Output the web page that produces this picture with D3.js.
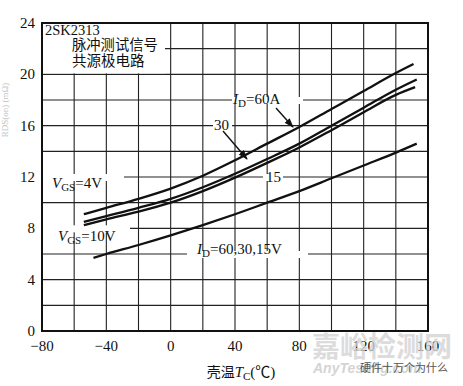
<!DOCTYPE html>
<html>
<head>
<meta charset="utf-8">
<script src="https://cdn.jsdelivr.net/npm/d3@7"></script>
<style>
  body { margin: 0; background: #fff; }
  text { font-family: "Liberation Serif", "Noto Sans CJK SC", serif; fill: #111; }
  .cjk { font-family: "Noto Sans CJK SC", sans-serif; }
</style>
</head>
<body>
<div id="chart"></div>
<script>
// case temperature (°C) vs on-resistance (mΩ)
const tc60 = [-54, -40, -20, 0, 20, 40, 60, 80, 100, 120, 140, 151];
const r60 = [9.1, 9.6, 10.3, 11.1, 12.1, 13.3, 14.6, 15.9, 17.3, 18.7, 20.1, 20.8];
const tc30 = [-54, -40, -20, 0, 20, 40, 60, 80, 100, 120, 140, 153];
const r30 = [8.5, 8.95, 9.6, 10.3, 11.2, 12.25, 13.4, 14.6, 16.0, 17.4, 18.8, 19.6];
const tc15 = [-54, -40, -20, 0, 20, 40, 60, 80, 100, 120, 140, 152];
const r15 = [8.25, 8.7, 9.3, 10.0, 10.9, 11.95, 13.1, 14.3, 15.65, 17.05, 18.4, 19.0];
const tc10v = [-48, -40, -20, 0, 20, 40, 60, 80, 100, 120, 140, 153];
const r10v = [5.7, 6.0, 6.7, 7.45, 8.25, 9.1, 10.0, 10.9, 11.9, 12.9, 13.9, 14.6];

const xTicks = [-80, -40, 0, 40, 80, 120, 160];
const yTicks = [0, 4, 8, 12, 16, 20, 24];

const W = 463, H = 386;
const margin = {top: 23, right: 35, bottom: 55, left: 42};
const width = W - margin.left - margin.right;
const height = H - margin.top - margin.bottom;

const svg = d3.select("#chart").append("svg")
  .attr("width", W).attr("height", H);

const x = d3.scaleLinear().domain([-80, 160]).range([margin.left, margin.left + width]);
const y = d3.scaleLinear().domain([0, 24]).range([margin.top + height, margin.top]);

// grid
const grid = svg.append("g").attr("stroke", "#222").attr("stroke-width", 1.1);
grid.selectAll(".gx").data(d3.range(-60, 160, 20)).enter().append("line")
  .attr("x1", d => x(d)).attr("x2", d => x(d))
  .attr("y1", y(0)).attr("y2", y(24));
grid.selectAll(".gy").data(d3.range(2, 24, 2)).enter().append("line")
  .attr("x1", x(-80)).attr("x2", x(160))
  .attr("y1", d => y(d)).attr("y2", d => y(d));

// white patches behind labels
const patches = [
  [x(-80), y(24), 123, y(20) - y(24) - 1],
  [x(-80), y(12) - 3, 82, 7],
  [x(-80), y(8) - 3, 88, 7],
  [187, y(6) - 3, 121, 7],
  [232, y(18) - 3, 71, 7],
  [213, y(16) - 3, 19, 7],
  [263, y(12) - 3, 20, 7]
];
svg.selectAll(".patch").data(patches).enter().append("rect")
  .attr("x", d => d[0]).attr("y", d => d[1])
  .attr("width", d => d[2]).attr("height", d => d[3])
  .attr("fill", "#fff");

// frame
svg.append("rect")
  .attr("x", x(-80)).attr("y", y(24))
  .attr("width", width).attr("height", height)
  .attr("fill", "none").attr("stroke", "#111").attr("stroke-width", 2);

// axes labels
svg.append("g").selectAll("text").data(yTicks).enter().append("text")
  .attr("x", 35).attr("y", d => y(d) + 5)
  .attr("text-anchor", "end").attr("font-size", 15).text(d => d);
svg.append("g").selectAll("text").data(xTicks).enter().append("text")
  .attr("x", d => x(d)).attr("y", 351)
  .attr("text-anchor", "middle").attr("font-size", 15)
  .text(d => d < 0 ? "\u2212" + Math.abs(d) : d);

const xt = svg.append("text").attr("x", 241).attr("y", 377)
  .attr("text-anchor", "middle").attr("font-size", 15);
xt.append("tspan").attr("class", "cjk").attr("font-size", 14).text("壳温");
xt.append("tspan").attr("font-style", "italic").text("T");
xt.append("tspan").attr("font-size", 11).attr("dy", 3).text("C");
xt.append("tspan").attr("dy", -3).text("(℃)");

svg.append("text").attr("transform", "translate(8,110) rotate(-90)")
  .attr("text-anchor", "middle").attr("font-size", 9).style("fill", "#c4c4c4")
  .text("RDS(on) (mΩ)");

// curves
const line = d3.line().x(d => x(d[0])).y(d => y(d[1])).curve(d3.curveMonotoneX);
const series = [[tc60, r60], [tc30, r30], [tc15, r15], [tc10v, r10v]];
svg.selectAll(".curve").data(series).enter().append("path")
  .attr("d", s => line(d3.zip(s[0], s[1])))
  .attr("fill", "none").attr("stroke", "#111").attr("stroke-width", 2.3);

// annotations
svg.append("text").attr("x", 45).attr("y", 35).attr("font-size", 14.5).text("2SK2313");
svg.append("text").attr("class", "cjk").attr("x", 72).attr("y", 50)
  .attr("font-size", 14.3).text("脉冲测试信号");
svg.append("text").attr("class", "cjk").attr("x", 72).attr("y", 66)
  .attr("font-size", 14.5).text("共源极电路");

function sublabel(tx, ty, main, sub, rest) {
  const t = svg.append("text").attr("x", tx).attr("y", ty).attr("font-size", 15);
  t.append("tspan").attr("font-style", "italic").text(main);
  t.append("tspan").attr("font-size", 11).attr("dy", 3).text(sub);
  t.append("tspan").attr("dy", -3).text(rest);
}
sublabel(52, 188, "V", "GS", "=4V");
sublabel(58, 241, "V", "GS", "=10V");
sublabel(197, 254, "I", "D", "=60,30,15V");
sublabel(233, 104, "I", "D", "=60A");
svg.append("text").attr("x", 214).attr("y", 130).attr("font-size", 15).text("30");
svg.append("text").attr("x", 266).attr("y", 182).attr("font-size", 15).text("15");

svg.append("defs").append("marker").attr("id", "ah")
  .attr("viewBox", "0 0 10 10").attr("refX", 9).attr("refY", 5)
  .attr("markerWidth", 7).attr("markerHeight", 7).attr("orient", "auto")
  .append("path").attr("d", "M0,1.5L10,5L0,8.5Z").attr("fill", "#111");
const arrows = [[276, 108, 293, 127], [223, 131, 247, 159]];
svg.selectAll(".arrow").data(arrows).enter().append("line")
  .attr("x1", d => d[0]).attr("y1", d => d[1]).attr("x2", d => d[2]).attr("y2", d => d[3])
  .attr("stroke", "#111").attr("stroke-width", 1.4).attr("marker-end", "url(#ah)");

// watermark
svg.append("text").attr("class", "cjk").attr("x", 312).attr("y", 357)
  .attr("font-size", 28).attr("font-weight", "bold").style("fill", "#d4d4d4").style("opacity", 0.8)
  .text("嘉峪检测网");
svg.append("text").attr("x", 313).attr("y", 373)
  .attr("font-size", 14).attr("font-weight", "bold").attr("font-style", "italic")
  .style("font-family", "Liberation Sans, sans-serif").style("fill", "#d4d4d4")
  .text("AnyTesting.com");
svg.append("text").attr("class", "cjk").attr("x", 360).attr("y", 372)
  .attr("font-size", 11).style("fill", "#555").text("硬件十万个为什么");
</script>
</body>
</html>
